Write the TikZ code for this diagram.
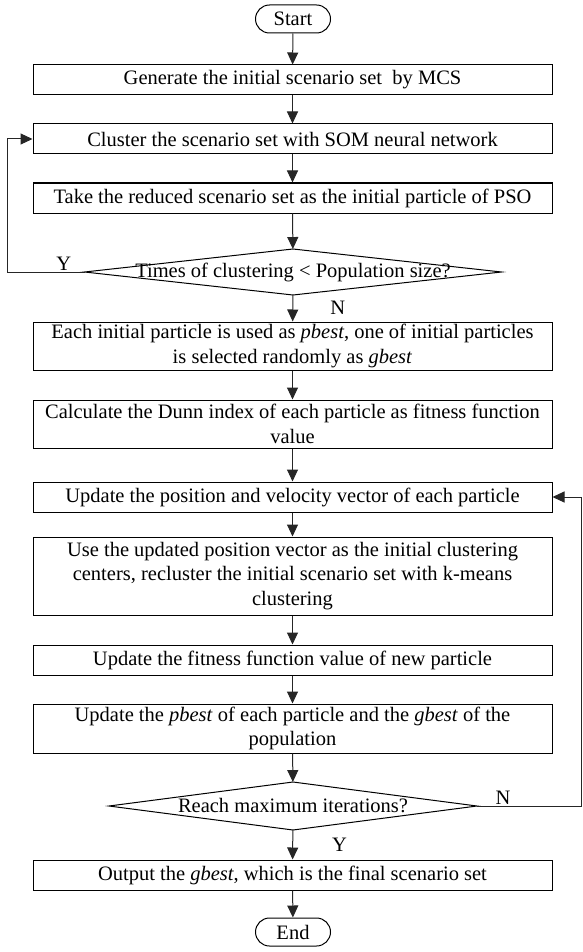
\documentclass[tikz,border=0pt]{standalone}
\usepackage{fontspec}
\setmainfont{Liberation Serif}
\usetikzlibrary{shapes.geometric,arrows.meta}
\begin{document}
\begin{tikzpicture}[x=1pt,y=-1pt,
  every node/.style={font=\fontsize{20.5}{24.5}\selectfont},
  box/.style={draw=black,line width=1pt,minimum width=519pt,minimum height=30pt,inner sep=1pt,align=center},
  term/.style={draw=black,line width=1pt,minimum width=75pt,minimum height=28pt,rounded corners=14pt,inner sep=1pt},
  dec/.style={draw=black,line width=1pt,shape=diamond,inner sep=0pt,outer sep=0pt},
  arr/.style={draw=black!85,line width=1pt,-{Triangle[length=12pt,width=11pt]}},
  lbl/.style={inner sep=1pt}]
\useasboundingbox (0,0) rectangle (582,952);
\node[term] (start) at (293,19) {Start};
\node[box] (b1) at (292.5,80) {Generate the initial scenario set \ by MCS};
\node[box] (b2) at (292.5,139) {Cluster the scenario set with SOM neural network};
\node[box] (b3) at (292.5,198) {Take the reduced scenario set as the initial particle of PSO};
\node[dec,minimum width=417pt,minimum height=46pt,label={center:Times of clustering < Population size?}] (d1) at (293,272) {};
\node[box,minimum height=48pt] (b4) at (292.5,346) {Each initial particle is used as \textit{pbest}, one of initial particles\\ is selected randomly as \textit{gbest}};
\node[box,minimum height=48pt] (b5) at (292.5,424) {Calculate the Dunn index of each particle as fitness function\\ value};
\node[box] (b6) at (292.5,497) {Update the position and velocity vector of each particle};
\node[box,minimum height=78pt] (b7) at (292.5,576) {Use the updated position vector as the initial clustering\\ centers, recluster the initial scenario set with k-means\\ clustering};
\node[box] (b8) at (292.5,660) {Update the fitness function value of new particle};
\node[box,minimum height=49pt] (b9) at (292.5,728.5) {Update the \textit{pbest} of each particle and the \textit{gbest} of the\\ population};
\node[dec,minimum width=368pt,minimum height=48pt,label={center:Reach maximum iterations?}] (d2) at (293,806) {};
\node[box] (b10) at (292.5,875) {Output the \textit{gbest}, which is the final scenario set};
\node[term] (end) at (293,932) {End};
\coordinate (lc) at (7.5,272);
\coordinate (rc) at (581.5,806);
\draw[arr] (start) -- (b1);
\draw[arr] (b1) -- (b2);
\draw[arr] (b2) -- (b3);
\draw[arr] (b3) -- (d1);
\draw[arr] (d1) -- node[lbl,right=36pt]{N} (b4);
\draw[arr] (d1.west) -- node[lbl,above,pos=0.27]{Y} (lc) |- (b2.west);
\draw[arr] (b4) -- (b5);
\draw[arr] (b5) -- (b6);
\draw[arr] (b6) -- (b7);
\draw[arr] (b7) -- (b8);
\draw[arr] (b8) -- (b9);
\draw[arr] (b9) -- (d2);
\draw[arr] (d2) -- node[lbl,right=38pt]{Y} (b10);
\draw[arr] (d2.east) -- node[lbl,above,pos=0.25]{N} (rc) |- (b6.east);
\draw[arr] (b10) -- (end);
\end{tikzpicture}
\end{document}
